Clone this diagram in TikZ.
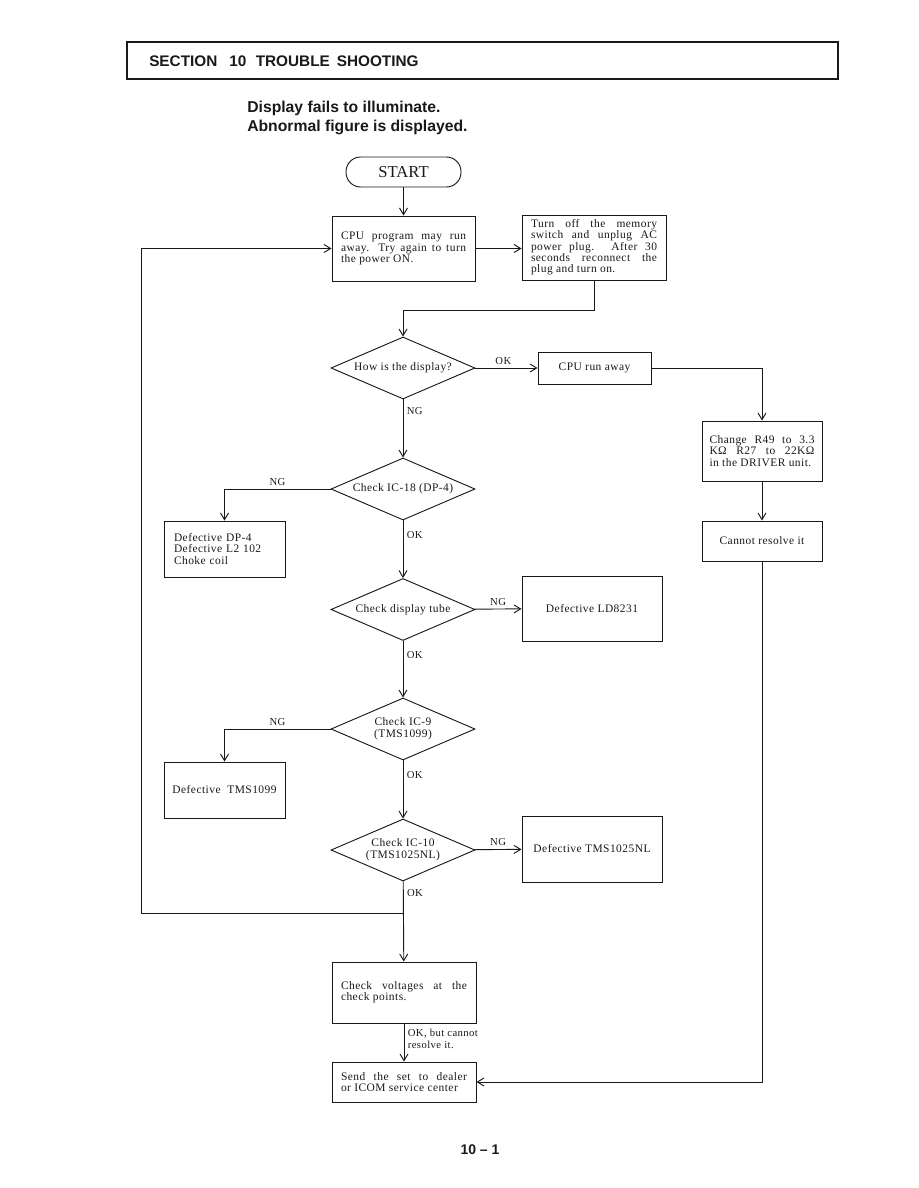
\documentclass[tikz,border=0pt]{standalone}
\usepackage{fontspec}
\setmainfont{Liberation Serif}
\setsansfont{Liberation Sans}
\newfontfamily\flowfont{Liberation Serif}[LetterSpace=4]
\usepackage{tikz}
\usetikzlibrary{shapes.geometric, arrows.meta, positioning}
\definecolor{ink}{RGB}{25,25,25}
\tikzset{
  block/.style={rectangle, draw=ink, text=ink, line width=0.7pt, inner sep=0pt,
    align=center, font=\flowfont\fontsize{8.6}{8.5}\selectfont},
  decision/.style={diamond, aspect=2.3, draw=ink, text=ink, line width=0.7pt,
    inner sep=0pt, minimum width=108pt, minimum height=46.5pt,
    align=center, font=\flowfont\fontsize{8.6}{8.8}\selectfont},
  terminal/.style={rectangle, rounded corners=11pt, draw=ink, text=ink,
    line width=0.7pt, minimum width=86.25pt, minimum height=22.5pt,
    font=\fontsize{12.5}{14}\selectfont},
  arrow/.style={-{Straight Barb[length=5pt, width=6pt]}, line width=0.7pt, color=ink},
  tag/.style={font=\flowfont\fontsize{8}{9}\selectfont, text=ink, inner sep=2.5pt},
  head/.style={font=\sffamily\bfseries\fontsize{11.5}{13}\selectfont, text=ink, inner sep=0pt},
  title/.style={font=\sffamily\bfseries\fontsize{11.8}{14}\selectfont, text=ink, inner sep=0pt}
}

\begin{document}
\begin{tikzpicture}[x=0.75pt, y=-0.75pt]
  \useasboundingbox (0,0) rectangle (918,1188);

  % Header
  \draw[ink, line width=1.1pt] (127,42) rectangle (838,79);
  \node[head, anchor=west] (sec) at (149,61) {SECTION\hspace{9pt}10\hspace{7pt}TROUBLE\hspace{2pt} SHOOTING};
  \node[title, anchor=west] (ttl1) at (247,108) {Display fails to illuminate.};
  \node[title, anchor=west] (ttl2) at (247,127) {Abnormal figure is displayed.};

  % Start and power cycle
  \node[terminal] (start) at (403.5,172) {START};
  \node[block, minimum width=107.25pt, minimum height=48.75pt, text width=93.75pt, align=justify]
    (b1) at (403.5,248.5) {CPU program may run\linebreak away. Try again to turn\linebreak the power ON.};
  \node[block, minimum width=108pt, minimum height=48.75pt, text width=94.5pt, align=justify]
    (b2) at (594,247.5) {Turn off the memory\linebreak switch and unplug AC\linebreak power plug. After 30\linebreak seconds reconnect the\linebreak plug and turn on.};

  % Checks
  \node[decision] (d1) at (403,368) {How is the display?};
  \node[decision] (d2) at (403,489) {Check IC-18 (DP-4)};
  \node[decision] (d3) at (403,609.5) {Check display tube};
  \node[decision] (d4) at (403,729) {Check IC-9\\(TMS1099)};
  \node[decision] (d5) at (403,850) {Check IC-10\\(TMS1025NL)};

  % Results
  \node[block, minimum width=84.75pt, minimum height=24pt] (b3) at (594.5,368) {CPU run away};
  \node[block, minimum width=90pt, minimum height=45pt, text width=78.75pt, align=justify]
    (b4) at (762,451) {Change R49 to 3.3\linebreak KΩ R27 to 22KΩ\linebreak in the DRIVER unit.};
  \node[block, minimum width=90pt, minimum height=30pt] (b5) at (762,541) {Cannot resolve it};
  \node[block, minimum width=90.75pt, minimum height=42pt, text width=75.75pt, align=left]
    (b6) at (224.5,549) {Defective DP-4\\Defective L2 102\\Choke coil};
  \node[block, minimum width=105pt, minimum height=48.75pt] (b7) at (592,608.5) {Defective LD8231};
  \node[block, minimum width=90.75pt, minimum height=42pt] (b8) at (224.5,790) {Defective\ \ TMS1099};
  \node[block, minimum width=105pt, minimum height=49.5pt] (b9) at (592,849) {Defective TMS1025NL};
  \node[block, minimum width=108pt, minimum height=45.75pt, text width=94.5pt, align=justify]
    (b10) at (404,992.5) {Check voltages at the\linebreak check points.};
  \node[block, minimum width=108pt, minimum height=30pt, text width=94.5pt, align=justify]
    (b11) at (404,1082) {Send the set to dealer\linebreak or ICOM service center};

  % Connectors
  \coordinate (jn) at (403,913);
  \coordinate (lp) at (141,913);
  \draw[arrow] (start) -- (b1);
  \draw[arrow] (b1.east) -- (b1.east -| b2.west);
  \draw[arrow] (b2.south) -- ++(0,30) -| (d1.north);
  \draw[arrow] (d1) -- node[tag, above, pos=0.45] {OK} (b3);
  \draw[arrow] (b3) -| (b4);
  \draw[arrow] (b4) -- (b5);
  \draw[arrow] (b5) |- (b11);
  \draw[arrow] (d1) -- node[tag, right, pos=0.2] {NG} (d2);
  \draw[arrow] (d2) -| node[tag, above, pos=0.25] {NG} (b6);
  \draw[arrow] (d2) -- node[tag, right, pos=0.25] {OK} (d3);
  \draw[arrow] (d3) -- node[tag, above] {NG} (b7);
  \draw[arrow] (d3) -- node[tag, right, pos=0.25] {OK} (d4);
  \draw[arrow] (d4) -| node[tag, above, pos=0.25] {NG} (b8);
  \draw[arrow] (d4) -- node[tag, right, pos=0.25] {OK} (d5);
  \draw[arrow] (d5) -- node[tag, above] {NG} (b9);
  \draw[arrow] (d5) -- node[tag, right, pos=0.15] {OK} (b10);
  \draw[arrow] (jn) -- (lp) |- (b1);
  \draw[arrow] (b10) -- node[tag, right, align=left, pos=0.4] {OK, but cannot\\resolve it.} (b11);

  % Page number
  \node[head, font=\sffamily\bfseries\fontsize{10.5}{12}\selectfont] (pg) at (480,1150) {10 -- 1};
\end{tikzpicture}
\end{document}
